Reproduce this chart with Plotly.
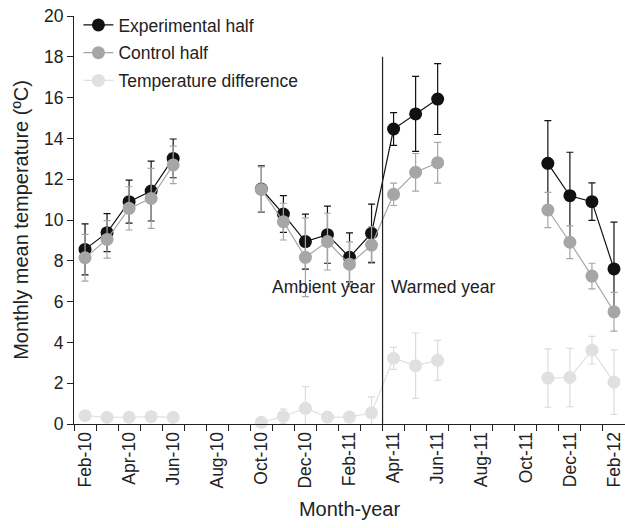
import plotly.graph_objects as go

months = ["Feb-10", "Mar-10", "Apr-10", "May-10", "Jun-10", "Jul-10", "Aug-10", "Sep-10",
          "Oct-10", "Nov-10", "Dec-10", "Jan-11", "Feb-11", "Mar-11", "Apr-11", "May-11",
          "Jun-11", "Jul-11", "Aug-11", "Sep-11", "Oct-11", "Nov-11", "Dec-11", "Jan-12", "Feb-12"]

experimental = [8.56, 9.38, 10.9, 11.42, 13.02, None, None, None,
                11.52, 10.29, 8.94, 9.28, 8.17, 9.35, 14.46, 15.2,
                15.93, None, None, None, None, 12.78, 11.19, 10.9, 7.6]
experimental_err = [1.25, 0.93, 1.05, 1.47, 0.95, None, None, None,
                    1.13, 0.9, 1.35, 1.4, 1.2, 1.43, 0.8, 1.84,
                    1.74, None, None, None, None, 2.09, 2.13, 0.92, 2.3]

control = [8.15, 9.05, 10.57, 11.06, 12.7, None, None, None,
           11.5, 9.92, 8.17, 8.94, 7.83, 8.77, 11.26, 12.34,
           12.81, None, None, None, None, 10.49, 8.91, 7.25, 5.5]
control_err = [1.15, 0.92, 1.06, 1.47, 0.92, None, None, None,
               1.1, 0.9, 1.93, 1.39, 1.1, 0.9, 0.55, 0.92,
               1.0, None, None, None, None, 0.86, 0.8, 0.63, 0.95]

difference = [0.41, 0.33, 0.33, 0.36, 0.32, None, None, None,
              0.08, 0.37, 0.77, 0.34, 0.34, 0.55, 3.22, 2.86,
              3.12, None, None, None, None, 2.25, 2.28, 3.62, 2.05]
difference_err = [0.1, 0.1, 0.1, 0.1, 0.1, None, None, None,
                  0.12, 0.36, 1.06, 0.2, 0.2, 0.78, 0.54, 1.6,
                  0.98, None, None, None, None, 1.43, 1.43, 0.68, 1.58]

y_ticks = [0, 2, 4, 6, 8, 10, 12, 14, 16, 18, 20]
period_labels = ["Ambient year", "Warmed year"]
warming_start = "Apr-11"

x = list(range(len(months)))
FONT = "Liberation Sans, Arial, Helvetica, sans-serif"
FS = 17.5
TS = 20

fig = go.Figure()

series = [
    ("Experimental half", experimental, experimental_err, "#111111", "#111111"),
    ("Control half", control, control_err, "#a6a6a6", "#a6a6a6"),
    ("Temperature difference", difference, difference_err, "#e0e0e0", "#dcdcdc"),
]
for i, (name, vals, errs, col, ecol) in enumerate(series):
    fig.add_trace(go.Scatter(
        x=x, y=vals, name=name, mode="lines+markers", legendgroup=f"g{i}",
        line=dict(color=col, width=1.2),
        marker=dict(color=col, size=13),
        error_y=dict(type="data", array=[e if e is not None else 0 for e in errs],
                     visible=True, color=ecol, thickness=1.2, width=3.5),
        cliponaxis=False,
    ))

split = months.index(warming_start) - 0.5
fig.add_shape(type="line", xref="x", yref="y", x0=split, x1=split, y0=0, y1=18,
              line=dict(color="#222222", width=1.2))
fig.add_annotation(x=split, y=6.7, xref="x", yref="y", text=period_labels[0],
                   showarrow=False, xanchor="right", xshift=-6,
                   font=dict(family=FONT, size=FS, color="#222222"))
fig.add_annotation(x=split, y=6.7, xref="x", yref="y", text=period_labels[1],
                   showarrow=False, xanchor="left", xshift=6,
                   font=dict(family=FONT, size=FS, color="#222222"))

fig.update_layout(
    width=625, height=528,
    margin=dict(l=74, r=0, t=16, b=104),
    plot_bgcolor="white", paper_bgcolor="white",
    font=dict(family=FONT, size=FS, color="#222222"),
    showlegend=True,
    legend=dict(x=0.008, y=1.022, xanchor="left", yanchor="top",
                bgcolor="rgba(0,0,0,0)", font=dict(size=FS),
                tracegroupgap=2, itemwidth=30),
    xaxis=dict(
        range=[-0.5, len(months) - 0.5], automargin=False,
        tickmode="array", tickvals=x[::2], ticktext=months[::2],
        tickangle=-90, ticks="", showgrid=False, zeroline=False,
        showline=True, linecolor="#222222", linewidth=1.2,
        tickfont=dict(size=FS),
        minor=dict(ticks="outside", ticklen=6, tickcolor="#222222",
                   tickmode="linear", tick0=-0.5, dtick=1, showgrid=False),
        title=dict(text="Month-year", font=dict(size=TS), standoff=14),
    ),
    yaxis=dict(
        range=[0, 20], tickmode="array", tickvals=y_ticks, automargin=False,
        ticks="outside", ticklen=6, tickcolor="#222222",
        showgrid=False, zeroline=False,
        showline=True, linecolor="#222222", linewidth=1.2,
        tickfont=dict(size=FS),
        title=dict(text="Monthly mean temperature (ºC)", font=dict(size=TS), standoff=9),
    ),
)

fig.write_html("out.html", config={"displayModeBar": False},
               post_script="document.body.style.margin='0';")
